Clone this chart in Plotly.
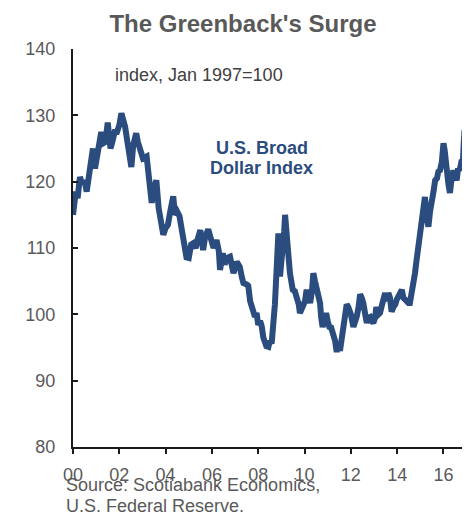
import plotly.graph_objects as go

# Decimal years and U.S. Broad Dollar Index values (Jan 1997=100)
years = [
    2000.00, 2000.05, 2000.12, 2000.20, 2000.30, 2000.40, 2000.50, 2000.59, 2000.70, 2000.80,
    2000.86, 2000.95, 2001.05, 2001.17, 2001.22, 2001.31, 2001.40, 2001.50, 2001.55, 2001.62,
    2001.70, 2001.80, 2001.90, 2002.00, 2002.09, 2002.18, 2002.25, 2002.35, 2002.45, 2002.52,
    2002.60, 2002.73, 2002.80, 2002.86, 2002.95, 2003.02, 2003.18, 2003.30, 2003.40, 2003.50,
    2003.60, 2003.70, 2003.80, 2003.90, 2004.00, 2004.10, 2004.20, 2004.33, 2004.40, 2004.50,
    2004.60, 2004.70, 2004.80, 2004.90, 2005.00, 2005.10, 2005.19, 2005.30, 2005.40, 2005.50,
    2005.62, 2005.70, 2005.84, 2005.95, 2006.07, 2006.20, 2006.30, 2006.35, 2006.47, 2006.55,
    2006.64, 2006.78, 2006.85, 2006.93, 2007.07, 2007.20, 2007.30, 2007.36, 2007.50, 2007.57,
    2007.65, 2007.72, 2007.86, 2007.93, 2008.00, 2008.08, 2008.15, 2008.22, 2008.29, 2008.35,
    2008.44, 2008.50, 2008.58, 2008.65, 2008.72, 2008.80, 2008.84, 2008.87, 2008.90, 2008.94,
    2009.00, 2009.06, 2009.12, 2009.16, 2009.20, 2009.26, 2009.37, 2009.45, 2009.49, 2009.58,
    2009.66, 2009.75, 2009.80, 2009.88, 2009.95, 2010.02, 2010.09, 2010.17, 2010.24, 2010.32,
    2010.38, 2010.45, 2010.52, 2010.60, 2010.67, 2010.72, 2010.78, 2010.85, 2010.93, 2011.00,
    2011.07, 2011.15, 2011.24, 2011.32, 2011.39, 2011.45, 2011.53, 2011.60, 2011.68, 2011.75,
    2011.82, 2011.89, 2012.00, 2012.11, 2012.18, 2012.25, 2012.33, 2012.40, 2012.47, 2012.54,
    2012.62, 2012.69, 2012.76, 2012.83, 2012.90, 2012.97, 2013.05, 2013.10, 2013.20, 2013.26,
    2013.35, 2013.42, 2013.48, 2013.55, 2013.62, 2013.69, 2013.76, 2013.84, 2013.92, 2013.98,
    2014.05, 2014.13, 2014.20, 2014.27, 2014.34, 2014.42, 2014.49, 2014.55, 2014.62, 2014.70,
    2014.77, 2014.84, 2014.92, 2014.99, 2015.06, 2015.13, 2015.20, 2015.27, 2015.35, 2015.42,
    2015.50, 2015.57, 2015.64, 2015.72, 2015.78, 2015.85, 2015.93, 2016.00, 2016.05, 2016.10,
    2016.17, 2016.22, 2016.28, 2016.35, 2016.43, 2016.50, 2016.57, 2016.63, 2016.69, 2016.75,
    2016.79, 2016.84, 2016.87, 2016.89, 2016.91,
]
index_values = [
    115.0, 116.5, 118.5, 117.5, 120.7, 119.6, 120.2, 118.5, 121.5, 124.8,
    125.0, 122.0, 124.5, 127.3, 127.5, 125.8, 126.0, 128.9, 126.0, 125.0,
    126.0, 127.5, 127.5, 128.5, 130.3, 129.3, 128.3, 126.0, 124.0, 122.2,
    125.5, 127.3, 126.0, 125.2, 124.0, 123.5, 123.8, 120.0, 116.8, 119.0,
    120.2, 116.0, 113.5, 112.0, 113.0, 113.5, 115.5, 117.8, 115.0, 115.5,
    114.8, 113.0, 111.0, 108.6, 108.5, 110.5, 110.7, 110.0, 111.5, 112.7,
    109.7, 111.5, 112.8, 111.5, 110.0, 111.2, 109.5, 106.7, 109.2, 107.5,
    108.5, 108.7, 107.0, 106.2, 107.9, 107.2, 105.5, 104.7, 104.5, 104.3,
    102.0, 101.1, 99.6, 100.2, 98.4, 99.0, 98.2, 96.5, 95.4, 95.2,
    95.1, 96.0, 95.6, 98.1, 101.5, 107.2, 110.5, 112.2, 108.0, 105.7,
    108.0, 109.7, 112.5, 115.0, 112.0, 110.7, 106.2, 104.5, 103.7, 103.5,
    102.7, 101.5, 100.2, 101.0, 101.7, 102.0, 103.7, 102.5, 101.7, 103.5,
    106.2, 105.0, 104.1, 103.0, 101.7, 99.5, 98.1, 99.0, 100.2, 99.0,
    98.1, 98.0, 97.2, 96.0, 94.3, 95.8, 94.5, 96.5, 98.7, 100.6,
    101.5, 101.1, 100.0, 98.1, 98.8, 99.6, 101.0, 103.0, 102.5, 101.7,
    100.0, 98.7, 99.5, 99.6, 99.0, 98.7, 99.5, 101.1, 100.0, 100.2,
    101.5, 103.0, 103.2, 102.0, 103.2, 102.5, 100.4, 101.1, 101.5, 102.2,
    102.8, 103.4, 103.7, 102.5, 102.2, 102.0, 101.7, 101.7, 102.8, 104.1,
    106.2, 108.2, 110.1, 112.7, 114.2, 115.7, 117.7, 115.0, 113.2, 115.5,
    116.7, 118.5, 120.2, 120.5, 121.5, 121.7, 123.0, 125.8, 124.8, 123.7,
    121.0, 119.5, 118.3, 120.5, 121.7, 121.0, 120.2, 122.0, 121.7, 122.5,
    123.3, 123.0, 125.5, 127.3, 127.8,
]

tick_years = [2000, 2002, 2004, 2006, 2008, 2010, 2012, 2014, 2016]
tick_labels = ["00", "02", "04", "06", "08", "10", "12", "14", "16"]
y_ticks = [80, 90, 100, 110, 120, 130, 140]

title_text = "The Greenback's Surge"
unit_text = "index, Jan 1997=100"
series_label = ["U.S. Broad", "Dollar Index"]
source_lines = ["Source: Scotiabank Economics,", "U.S. Federal Reserve."]

LINE_COLOR = "#2B4C7E"
FONT = "Liberation Sans, Arial, sans-serif"

# page body has an 8px default margin, so the figure is 8px smaller each way
W, H, OFF = 462, 507, 8

fig = go.Figure()
fig.add_trace(go.Scatter(
    x=years, y=index_values, mode="lines",
    line=dict(color=LINE_COLOR, width=6),
    hoverinfo="skip", showlegend=False,
))

fig.update_layout(
    width=W, height=H,
    margin=dict(l=73 - OFF, r=W - (465 - OFF), t=49 - OFF, b=H - (447 - OFF), pad=0),
    paper_bgcolor="white", plot_bgcolor="white",
    font=dict(family=FONT, size=18, color="#595959"),
    title=dict(
        text="<b>" + title_text + "</b>",
        x=(243 - OFF) / W, xanchor="center", xref="container",
        y=1 - (24 - OFF) / H, yanchor="middle", yref="container",
        font=dict(family=FONT, size=24, color="#595959"),
    ),
    xaxis=dict(
        range=[2000, 2016.93], tickvals=tick_years, ticktext=tick_labels,
        showgrid=False, zeroline=False,
        showline=True, linecolor="#1a1a1a", linewidth=2,
        ticks="outside", ticklen=5, tickwidth=2, tickcolor="#1a1a1a",
        ticklabelstandoff=5,
        tickfont=dict(family=FONT, size=18, color="#595959"),
    ),
    yaxis=dict(
        range=[80, 140], tickvals=y_ticks,
        showgrid=False, zeroline=False,
        showline=True, linecolor="#1a1a1a", linewidth=2,
        ticks="inside", ticklen=5, tickwidth=2, tickcolor="#1a1a1a",
        ticklabelstandoff=12,
        tickfont=dict(family=FONT, size=18, color="#595959"),
    ),
)

fig.add_annotation(
    x=2001.73, y=136.1, xref="x", yref="y", text=unit_text,
    showarrow=False, xanchor="left", yanchor="middle",
    font=dict(family=FONT, size=18, color="#404040"),
)
fig.add_annotation(
    x=2008.16, y=140 - (148 - 49) / 6.63, xref="x", yref="y",
    text="<b>" + series_label[0] + "</b>",
    showarrow=False, xanchor="center", yanchor="middle",
    font=dict(family=FONT, size=18, color=LINE_COLOR),
)
fig.add_annotation(
    x=2008.16, y=140 - (168 - 49) / 6.63, xref="x", yref="y",
    text="<b>" + series_label[1] + "</b>",
    showarrow=False, xanchor="center", yanchor="middle",
    font=dict(family=FONT, size=18, color=LINE_COLOR),
)
fig.add_annotation(
    x=(64 - 73) / 392, y=(447 - 485) / 398, xref="paper", yref="paper",
    text=source_lines[0], showarrow=False, xanchor="left", yanchor="middle",
    font=dict(family=FONT, size=18, color="#595959"),
)
fig.add_annotation(
    x=(64 - 73) / 392, y=(447 - 506) / 398, xref="paper", yref="paper",
    text=source_lines[1], showarrow=False, xanchor="left", yanchor="middle",
    font=dict(family=FONT, size=18, color="#595959"),
)

fig.write_html("out.html")
